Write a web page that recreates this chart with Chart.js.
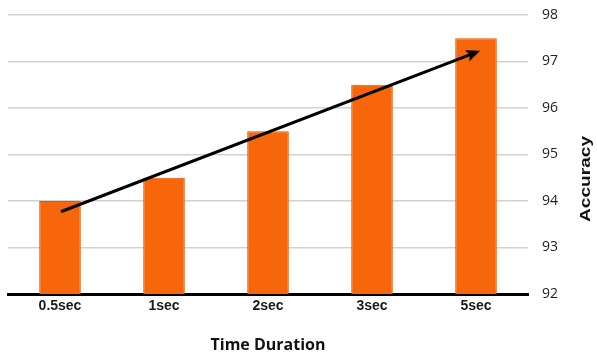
<!DOCTYPE html>
<html>
<head>
<meta charset="utf-8">
<script src="https://cdn.jsdelivr.net/npm/chart.js@4"></script>
<style>
  html, body { margin: 0; padding: 0; background: #fff; }
  #wrap { width: 597px; height: 358px; }
</style>
</head>
<body>
<div id="wrap"><canvas id="accuracyChart" width="597" height="358"></canvas></div>
<script>
// chart data
const durations = ["0.5sec", "1sec", "2sec", "3sec", "5sec"];
const accuracy = [94, 94.5, 95.5, 96.5, 97.5];
const yTicks = [92, 93, 94, 95, 96, 97, 98];
// trend arrow, in data units: [category index, accuracy]
const arrowFrom = [0.02, 93.78];
const arrowTo = [4.04, 97.23];

// black trend arrow + rotated y title
const extras = {
  id: "extras",
  afterDatasetsDraw(chart) {
    const { ctx, scales } = chart;
    const x1 = scales.x.getPixelForValue(arrowFrom[0]);
    const y1 = scales.y.getPixelForValue(arrowFrom[1]);
    const x2 = scales.x.getPixelForValue(arrowTo[0]);
    const y2 = scales.y.getPixelForValue(arrowTo[1]);
    const ang = Math.atan2(y2 - y1, x2 - x1);
    const headLen = 14;
    const headW = 6;

    ctx.save();
    ctx.strokeStyle = "#000";
    ctx.fillStyle = "#000";
    ctx.lineWidth = 3;
    ctx.lineCap = "round";
    ctx.beginPath();
    ctx.moveTo(x1, y1);
    ctx.lineTo(x2 - Math.cos(ang) * (headLen - 2), y2 - Math.sin(ang) * (headLen - 2));
    ctx.stroke();

    ctx.translate(x2, y2);
    ctx.rotate(ang);
    ctx.beginPath();
    ctx.moveTo(0, 0);
    ctx.lineTo(-headLen, -headW);
    ctx.lineTo(-headLen + 3, 0);
    ctx.lineTo(-headLen, headW);
    ctx.closePath();
    ctx.fill();
    ctx.restore();
  },
  afterDraw(chart) {
    const { ctx } = chart;
    ctx.save();
    ctx.translate(586, chart.height / 2);
    ctx.rotate(-Math.PI / 2);
    ctx.font = "bold 15px 'Liberation Sans', Arial, sans-serif";
    const w = ctx.measureText("Accuracy").width;
    ctx.scale(86 / w, 1);
    ctx.fillStyle = "#111";
    ctx.textAlign = "center";
    ctx.textBaseline = "middle";
    ctx.fillText("Accuracy", 0, 0);
    ctx.restore();
  },
};

const ctx = document.getElementById("accuracyChart").getContext("2d");
const accuracyChart = new Chart(ctx, {
  type: "bar",
  data: {
    labels: durations,
    datasets: [
      {
        data: accuracy,
        backgroundColor: "#f7660a",
        borderColor: "#dd5808",
        borderWidth: 1,
        barPercentage: 0.4,
        categoryPercentage: 1,
      },
    ],
  },
  options: {
    responsive: false,
    animation: false,
    layout: {
      padding: { left: 8, top: 15, right: 0, bottom: 0 },
    },
    scales: {
      x: {
        grid: { display: false },
        border: { color: "#000", width: 3 },
        ticks: {
          color: "#1a1a1a",
          padding: -4,
          font: { family: "'Liberation Sans', Arial, sans-serif", size: 14, weight: "bold" },
        },
        title: {
          display: true,
          text: "Time Duration",
          color: "#111",
          font: { family: "'Open Sans', sans-serif", size: 16, weight: "bold" },
          padding: { top: 0, bottom: 3 },
        },
        afterFit(scale) {
          scale.height = 64;
        },
      },
      y: {
        position: "right",
        min: yTicks[0],
        max: yTicks[yTicks.length - 1],
        afterBuildTicks(scale) {
          scale.ticks = yTicks.map((v) => ({ value: v }));
        },
        grid: {
          color: "#d2d2d2",
          lineWidth: 1.5,
          drawTicks: false,
        },
        border: { display: false },
        ticks: {
          color: "#222",
          padding: 14,
          font: { family: "'Open Sans', sans-serif", size: 14 },
        },
        afterFit(scale) {
          scale.width = 69;
          scale.paddingTop = 0;
          scale.paddingBottom = 0;
        },
      },
    },
    plugins: {
      legend: { display: false },
      tooltip: { enabled: false },
    },
  },
  plugins: [extras],
});
</script>
</body>
</html>
